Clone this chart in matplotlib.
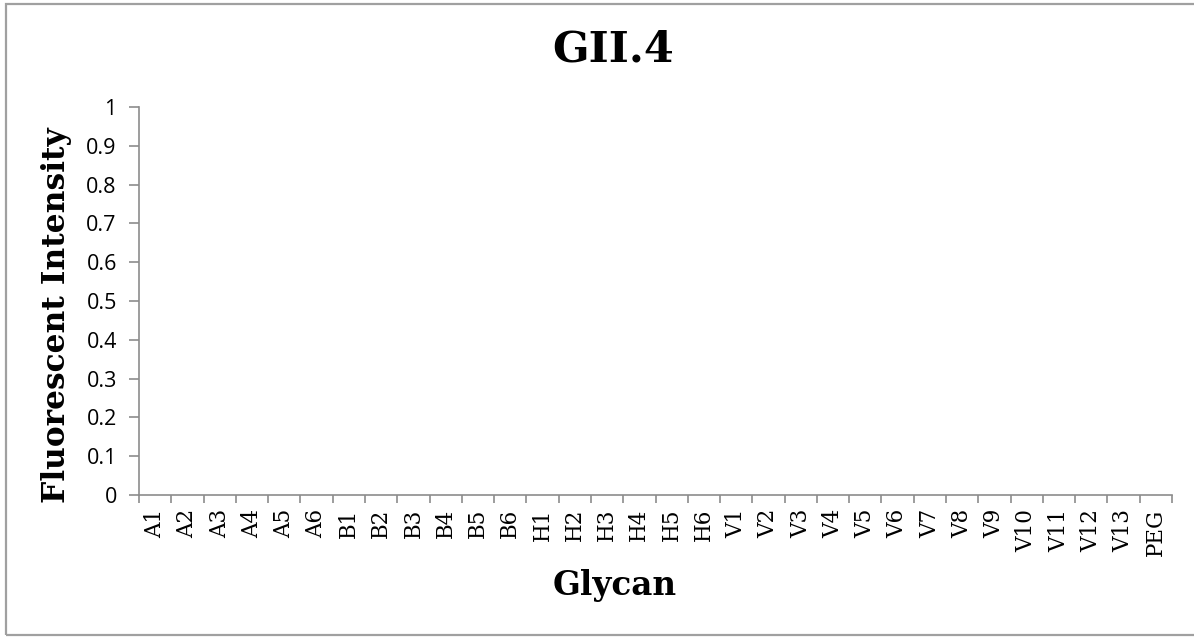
import matplotlib
matplotlib.use("Agg")
import matplotlib.pyplot as plt
from matplotlib.patches import Rectangle

# glycan panel, GII.4 binding (no signal on any spot)
glycans = ["A1", "A2", "A3", "A4", "A5", "A6",
           "B1", "B2", "B3", "B4", "B5", "B6",
           "H1", "H2", "H3", "H4", "H5", "H6",
           "V1", "V2", "V3", "V4", "V5", "V6", "V7", "V8", "V9",
           "V10", "V11", "V12", "V13", "PEG"]
intensity = [0, 0, 0, 0, 0, 0,
             0, 0, 0, 0, 0, 0,
             0, 0, 0, 0, 0, 0,
             0, 0, 0, 0, 0, 0, 0, 0, 0,
             0, 0, 0, 0, 0]
yticks = [0, 0.1, 0.2, 0.3, 0.4, 0.5, 0.6, 0.7, 0.8, 0.9, 1]

W, H = 1194, 637
fig = plt.figure(figsize=(W / 100, H / 100), dpi=100)
fig.patch.set_facecolor("white")

# outer chart frame
fig.patches.append(Rectangle((6 / W, 1 - 635 / H), 1.2, (635 - 4) / H,
                             transform=fig.transFigure, fill=False,
                             edgecolor="#a0a0a0", linewidth=1.6))

ax = fig.add_axes([139 / W, 1 - 495 / H, (1172 - 139) / W, (495 - 107) / H])
x = list(range(len(glycans)))
ax.bar(x, intensity, width=0.6, color="#4f81bd")

ax.set_xlim(-0.5, len(glycans) - 0.5)
ax.set_ylim(0, 1)
ax.set_yticks(yticks)
ax.set_yticklabels([f"{v:g}" for v in yticks], fontsize=15.5, family="Open Sans")

# category labels centred, tick marks on the boundaries
ax.set_xticks(x)
ax.set_xticklabels(glycans, rotation=90, fontsize=15.5, family="DejaVu Serif")
ax.tick_params(axis="x", length=0, pad=10)
ax.set_xticks([i - 0.5 for i in range(len(glycans) + 1)], minor=True)
ax.tick_params(axis="x", which="minor", length=6, width=1.2, color="#8c8c8c",
               direction="out")
ax.tick_params(axis="y", length=7, width=1.2, color="#8c8c8c", pad=9)

for s in ["top", "right"]:
    ax.spines[s].set_visible(False)
for s in ["left", "bottom"]:
    ax.spines[s].set_color("#8c8c8c")
    ax.spines[s].set_linewidth(1.2)

fig.text(613 / W, 1 - 50 / H, "GII.4", ha="center", va="center",
         fontsize=31, fontweight="bold", family="DejaVu Serif")
fig.text(57 / W, 1 - 315 / H, "Fluorescent Intensity", ha="center", va="center",
         rotation=90, fontsize=22.5, fontweight="bold", family="DejaVu Serif")
fig.text(615 / W, 1 - 585 / H, "Glycan", ha="center", va="center",
         fontsize=23.5, fontweight="bold", family="DejaVu Serif")

fig.savefig("out.png", dpi=100)
